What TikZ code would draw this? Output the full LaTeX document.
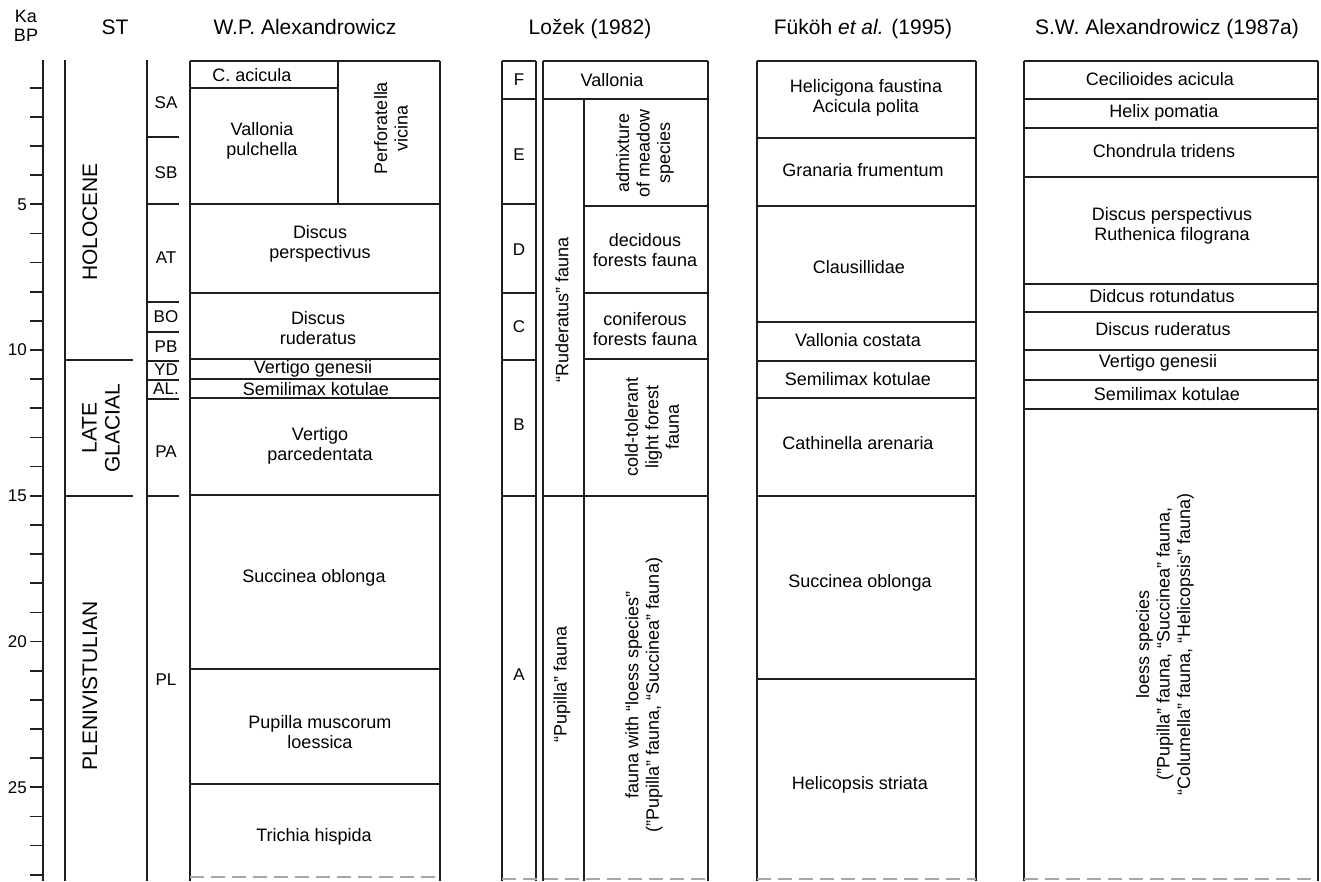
\documentclass[tikz,border=0pt]{standalone}
\usepackage{fontspec}
\setmainfont{Liberation Sans}
\begin{document}
\begin{tikzpicture}[x=1pt,y=-1pt,
  ln/.style={line width=1.7pt, color=black!88},
  dsh/.style={line width=1.5pt, color=black!35, dash pattern=on 14pt off 7pt},
  cell/.style={font=\fontsize{18}{20.5}\selectfont, align=center, inner sep=0pt},
  rcell/.style={cell, rotate=90},
  hdr/.style={font=\fontsize{21}{24}\selectfont, inner sep=0pt, anchor=base},
  per/.style={font=\fontsize{21}{23}\selectfont, align=center, inner sep=0pt, rotate=90},
  stg/.style={font=\fontsize{17}{19}\selectfont, inner sep=0pt},
  num/.style={font=\fontsize{17}{19}\selectfont, inner sep=0pt, anchor=east}]
\useasboundingbox (0,0) rectangle (1321,881);

% ---------- headers ----------
\node[font=\fontsize{18}{19}\selectfont, align=center, inner sep=0pt] (kabp) at (26,26) {Ka\\BP};
\node[hdr] (hST) at (115,34) {ST};
\node[hdr] (hWPA) at (305,34) {W.P. Alexandrowicz};
\node[hdr] (hLoz) at (590,34) {Ložek (1982)};
\node[hdr] (hFuk) at (863,34) {Füköh \textit{et al.} (1995)};
\node[hdr] (hSWA) at (1167,34) {S.W. Alexandrowicz (1987a)};

% ---------- age axis ----------
\draw[ln] (43,60) -- (43,881);
\foreach \k in {1,...,28}{
  \draw[ln] (30,{58.5+29.15*\k}) -- (43,{58.5+29.15*\k});
}
\foreach \k in {5,10,15,20,25}{
  \node[num] (n\k) at (27,{58.5+29.15*\k}) {\k};
}

% ---------- ST column ----------
\draw[ln] (65,60) -- (65,881);
\draw[ln] (147,60) -- (147,881);
\draw[ln] (65,360) -- (133,360);
\draw[ln] (65,496) -- (133,496);
\node[per] (holo) at (90,222) {HOLOCENE};
\node[per] (late) at (101,428) {LATE\\GLACIAL};
\node[per] (plen) at (90,686) {PLENIVISTULIAN};

% stages
\foreach \yy in {137,204,302,332,361,380,399,496}{
  \draw[ln] (147,\yy) -- (179,\yy);
}
\node[stg] (sSA) at (166,103) {SA};
\node[stg] (sSB) at (166,173) {SB};
\node[stg] (sAT) at (166,258) {AT};
\node[stg] (sBO) at (166,317) {BO};
\node[stg] (sPB) at (166,347) {PB};
\node[stg] (sYD) at (166,370) {YD};
\node[stg] (sAL) at (166,389) {AL.};
\node[stg] (sPA) at (166,452) {PA};
\node[stg] (sPL) at (166,680) {PL};

% ---------- W.P. Alexandrowicz ----------
\draw[ln] (190,61) -- (190,881);
\draw[ln] (440,61) -- (440,881);
\draw[ln] (190,61) -- (440,61);
\draw[ln] (338,61) -- (338,204);
\draw[ln] (190,88) -- (338,88);
\foreach \yy in {204,293,359,379,398,495,669,784}{
  \draw[ln] (190,\yy) -- (440,\yy);
}
\draw[dsh] (190,877) -- (440,877);
\node[cell] (w1) at (252,75) {C. acicula};
\node[cell] (w2) at (262,141) {Vallonia\\pulchella};
\node[rcell] (w3) at (391,128) {Perforatella\\vicina};
\node[cell] (w4) at (320,244) {Discus\\perspectivus};
\node[cell] (w5) at (318,328) {Discus\\ruderatus};
\node[cell] (w6) at (313,369) {Vertigo genesii};
\node[cell] (w7) at (316,389) {Semilimax kotulae};
\node[cell] (w8) at (320,446) {Vertigo\\parcedentata};
\node[cell] (w9) at (314,578) {Succinea oblonga};
\node[cell] (w10) at (320,732) {Pupilla muscorum\\loessica};
\node[cell] (w11) at (314,837) {Trichia hispida};

% ---------- Lozek ----------
\draw[ln] (502,61) -- (502,881);
\draw[ln] (536,61) -- (536,881);
\draw[ln] (543,61) -- (543,881);
\draw[ln] (584,99) -- (584,881);
\draw[ln] (708,61) -- (708,881);
\draw[ln] (502,61) -- (536,61);
\draw[ln] (543,61) -- (708,61);
\foreach \yy in {99,204,293,360,496}{
  \draw[ln] (502,\yy) -- (536,\yy);
}
\draw[ln] (543,99) -- (708,99);
\foreach \yy in {206,293,359,496}{
  \draw[ln] (584,\yy) -- (708,\yy);
}
\draw[ln] (543,496) -- (584,496);
\draw[dsh] (502,879) -- (708,879);
\node[stg] (lF) at (519,80) {F};
\node[stg] (lE) at (519,155) {E};
\node[stg] (lD) at (519,250) {D};
\node[stg] (lC) at (519,327) {C};
\node[stg] (lB) at (519,425) {B};
\node[stg] (lA) at (519,675) {A};
\node[cell] (l1) at (612,80) {Vallonia};
\node[rcell] (l2) at (645,153) {admixture\\of meadow\\species};
\node[cell] (l3) at (645,250) {decidous\\forests fauna};
\node[cell] (l4) at (645,329) {coniferous\\forests fauna};
\node[rcell] (l5) at (652,427) {cold-tolerant\\light forest\\fauna};
\node[rcell] (l6) at (644,695) {fauna with “loess species”\\(”Pupilla” fauna, “Succinea” fauna)};
\node[rcell] (l7) at (562,310) {“Ruderatus” fauna};
\node[rcell] (l8) at (562,684) {“Pupilla” fauna};

% ---------- Fukoh ----------
\draw[ln] (757,61) -- (757,881);
\draw[ln] (976,61) -- (976,881);
\foreach \yy in {61,138,206,322,361,398,496,679}{
  \draw[ln] (757,\yy) -- (976,\yy);
}
\draw[dsh] (757,879) -- (976,879);
\node[cell] (f1) at (866,98) {Helicigona faustina\\Acicula polita};
\node[cell] (f2) at (863,170) {Granaria frumentum};
\node[cell] (f3) at (859,267) {Clausillidae};
\node[cell] (f4) at (858,340) {Vallonia costata};
\node[cell] (f5) at (858,379) {Semilimax kotulae};
\node[cell] (f6) at (858,443) {Cathinella arenaria};
\node[cell] (f7) at (860,583) {Succinea oblonga};
\node[cell] (f8) at (860,785) {Helicopsis striata};

% ---------- S.W. Alexandrowicz ----------
\draw[ln] (1024,61) -- (1024,881);
\draw[ln] (1318,61) -- (1318,881);
\foreach \yy in {61,99,128,177,284,312,350,380,409}{
  \draw[ln] (1024,\yy) -- (1318,\yy);
}
\draw[dsh] (1024,879) -- (1318,879);
\node[cell] (a1) at (1160,79) {Cecilioides acicula};
\node[cell] (a2) at (1164,113) {Helix pomatia};
\node[cell] (a3) at (1164,151) {Chondrula tridens};
\node[cell] (a4) at (1172,226) {Discus perspectivus\\Ruthenica filograna};
\node[cell] (a5) at (1162,296) {Didcus rotundatus};
\node[cell] (a6) at (1163,329) {Discus ruderatus};
\node[cell] (a7) at (1158,363) {Vertigo genesii};
\node[cell] (a8) at (1167,394) {Semilimax kotulae};
\node[rcell] (a9) at (1165,644) {loess species\\(”Pupilla” fauna, “Succinea” fauna,\\“Columella” fauna, “Helicopsis” fauna)};
\end{tikzpicture}
\end{document}
